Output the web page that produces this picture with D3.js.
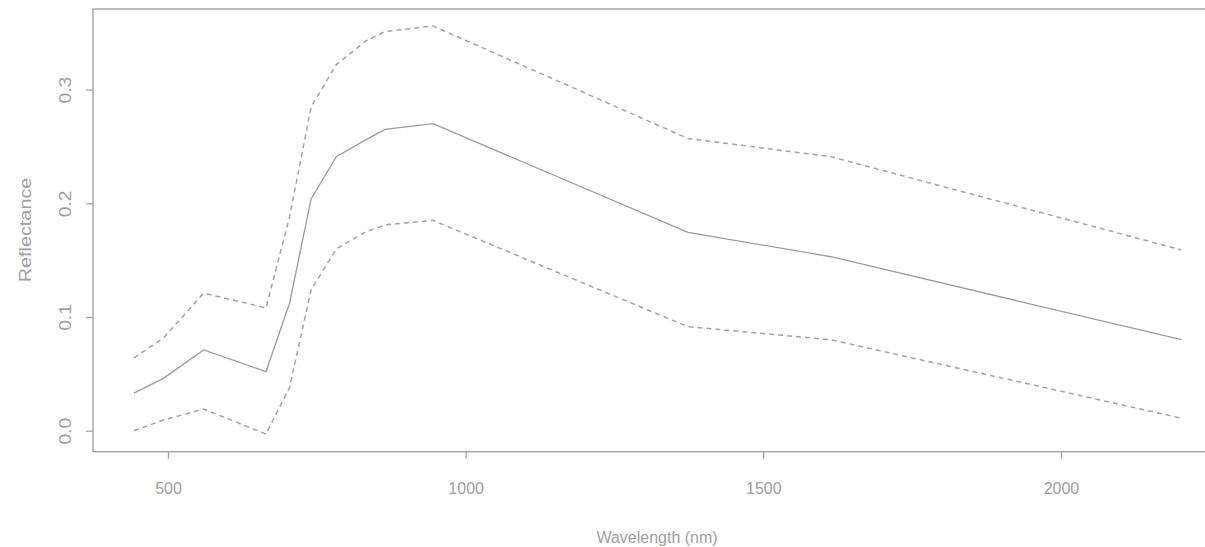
<!DOCTYPE html>
<html>
<head>
<meta charset="utf-8">
<script src="https://cdn.jsdelivr.net/npm/d3@7"></script>
<style>
  body { margin: 0; background: #fff; }
  text { font-family: "Liberation Sans", Arial, sans-serif; fill: #a0a0a0; }
</style>
</head>
<body>
<svg width="1205" height="547"></svg>
<script>
// band centres (nm) and reflectance
var wavelength = [442.7, 492.4, 559.8, 664.6, 704.1, 740.5, 782.8, 832.8, 864.7, 945.1, 1373.5, 1613.7, 2202.4];
var meanRefl  = [0.033, 0.046, 0.071, 0.052, 0.112, 0.204, 0.241, 0.256, 0.265, 0.270, 0.1745, 0.153, 0.080];
var upperRefl = [0.064, 0.0815, 0.121, 0.108, 0.188, 0.285, 0.322, 0.343, 0.351, 0.356, 0.257, 0.241, 0.159];
var lowerRefl = [0.000, 0.0094, 0.019, -0.003, 0.038, 0.124, 0.160, 0.175, 0.181, 0.185, 0.0915, 0.080, 0.011];
var xTicks = [500, 1000, 1500, 2000];
var yTicks = [0.0, 0.1, 0.2, 0.3];

var svg = d3.select("svg");
var box = {left: 93, top: 9, right: 1208, bottom: 451.7};
var grey = "#a4a4a4";

var x = d3.scaleLinear().domain([500, 1500]).range([168, 763.3]);
var y = d3.scaleLinear().domain([0, 0.3]).range([430.7, 89.6]);

svg.append("rect")
    .attr("x", box.left).attr("y", box.top)
    .attr("width", box.right - box.left).attr("height", box.bottom - box.top)
    .attr("fill", "none").attr("stroke", grey).attr("stroke-width", 1.4);

var xAxis = svg.append("g")
    .attr("transform", "translate(0," + box.bottom + ")")
    .call(d3.axisBottom(x).tickValues(xTicks).tickSize(7).tickFormat(d3.format("d")));
var yAxis = svg.append("g")
    .attr("transform", "translate(" + box.left + ",0)")
    .call(d3.axisLeft(y).tickValues(yTicks).tickSize(7).tickFormat(d3.format(".1f")));

[xAxis, yAxis].forEach(function(a) {
  a.select(".domain").remove();
  a.selectAll("line").attr("stroke", grey).attr("stroke-width", 1.3);
  a.selectAll("text").style("font-size", "16px").attr("fill", "#a0a0a0");
});
xAxis.selectAll("text").attr("y", 42).attr("dy", 0);
yAxis.selectAll("text")
    .attr("x", 0).attr("y", 0).attr("dy", 0)
    .attr("transform", "translate(-22,0) rotate(-90) scale(1.2,1)")
    .style("text-anchor", "middle");

svg.append("text")
    .attr("x", 657).attr("y", 543)
    .attr("text-anchor", "middle")
    .style("font-size", "16px")
    .text("Wavelength (nm)");
svg.append("text")
    .attr("transform", "translate(31,230) rotate(-90) scale(1.24,1)")
    .attr("text-anchor", "middle")
    .style("font-size", "16px")
    .text("Reflectance");

function series(vals) {
  return wavelength.map(function(w, i) { return {w: w, v: vals[i]}; });
}
var line = d3.line()
    .x(function(d) { return x(d.w); })
    .y(function(d) { return y(d.v); });

svg.append("path").datum(series(upperRefl))
    .attr("d", line).attr("fill", "none")
    .attr("stroke", grey).attr("stroke-width", 1.5).attr("stroke-dasharray", "5,4");
svg.append("path").datum(series(lowerRefl))
    .attr("d", line).attr("fill", "none")
    .attr("stroke", grey).attr("stroke-width", 1.5).attr("stroke-dasharray", "5,4");
svg.append("path").datum(series(meanRefl))
    .attr("d", line).attr("fill", "none")
    .attr("stroke", "#9c9c9c").attr("stroke-width", 1.3);
</script>
</body>
</html>
